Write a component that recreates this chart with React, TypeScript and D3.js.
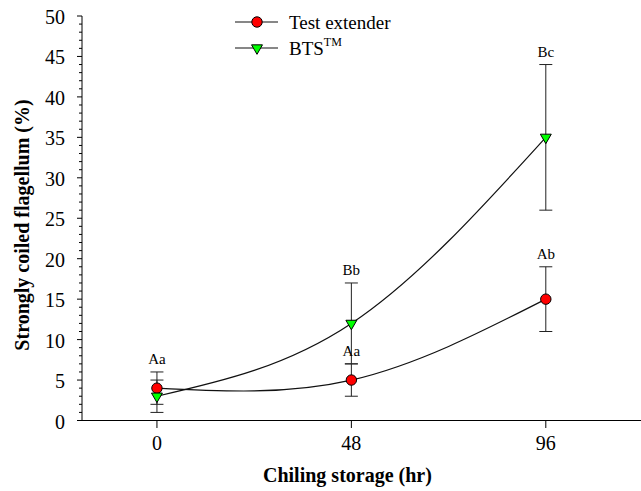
import React from "react";
import * as d3 from "d3";

const hours = [0, 48, 96];
const testMean = [4, 5, 15];
const testErr = [2, 2, 4];
const btsMean = [3, 12, 35];
const btsErr = [2, 5, 9];
const testLabels = ["Aa", "Aa", "Ab"];
const btsLabels = ["", "Bb", "Bc"];
const yTicks = [0, 5, 10, 15, 20, 25, 30, 35, 40, 45, 50];
const xTicks = [0, 48, 96];

const W = 641, H = 491;
const FONT = "'Liberation Serif', 'Times New Roman', serif";

export default function App() {
  const x = d3.scaleLinear().domain([-18.5, 119.5]).range([82, 641]);
  const y = d3.scaleLinear().domain([0, 50]).range([420.5, 16]);
  const minor = d3.range(0, 51, 1).filter((v) => v % 5 !== 0);
  const line = d3
    .line<number>()
    .x((_, i) => x(hours[i]))
    .y((d) => y(d))
    .curve(d3.curveNatural);
  const tri = d3.symbol().type(d3.symbolTriangle).size(52)();

  const series = [
    { mean: testMean, err: testErr, labels: testLabels, kind: "circle" },
    { mean: btsMean, err: btsErr, labels: btsLabels, kind: "tri" },
  ];

  const marker = (kind: string, cx: number, cy: number, key?: string) =>
    kind === "circle" ? (
      <circle key={key} cx={cx} cy={cy} r={5.2} fill="#ff0000" stroke="#000" strokeWidth={1} />
    ) : (
      <path key={key} d={tri as string} transform={`translate(${cx},${cy}) rotate(180)`} fill="#00ff00" stroke="#000" strokeWidth={1} />
    );

  return (
    <svg width={W} height={H} style={{ position: "absolute", left: 0, top: 0, background: "#fff" }} fontFamily={FONT}>
      {/* axes */}
      <line x1={82} x2={82} y1={16} y2={420.5} stroke="#000" />
      <line x1={82} x2={641} y1={420.5} y2={420.5} stroke="#000" />
      {yTicks.map((t) => (
        <g key={"y" + t}>
          <line x1={77} x2={82} y1={y(t)} y2={y(t)} stroke="#000" />
          <text x={65} y={y(t) + 1} dy="0.35em" textAnchor="end" fontSize={20}>{t}</text>
        </g>
      ))}
      {minor.map((t) => (
        <line key={"m" + t} x1={79} x2={82} y1={y(t)} y2={y(t)} stroke="#000" />
      ))}
      {xTicks.map((t) => (
        <g key={"x" + t}>
          <line x1={x(t)} x2={x(t)} y1={420.5} y2={428} stroke="#000" />
          <text x={x(t)} y={450} textAnchor="middle" fontSize={20}>{t}</text>
        </g>
      ))}
      <text x={263} y={482} textAnchor="start" fontSize={20} fontWeight="bold">Chiling storage (hr)</text>
      <text transform={`translate(29,225) rotate(-90)`} textAnchor="middle" fontSize={20} fontWeight="bold">
        Strongly coiled flagellum (%)
      </text>

      {/* error bars */}
      {series.map((s, si) =>
        s.mean.map((m, i) => {
          const cx = x(hours[i]);
          const top = y(m + s.err[i]);
          const bot = y(m - s.err[i]);
          return (
            <g key={`e${si}-${i}`} stroke="#222" strokeWidth={1}>
              <line x1={cx} x2={cx} y1={top} y2={bot} />
              <line x1={cx - 6.5} x2={cx + 6.5} y1={top} y2={top} />
              <line x1={cx - 6.5} x2={cx + 6.5} y1={bot} y2={bot} />
            </g>
          );
        })
      )}
      {/* curves */}
      {series.map((s, si) => (
        <path key={"l" + si} d={line(s.mean) as string} fill="none" stroke="#111" strokeWidth={1.2} />
      ))}
      {/* markers */}
      {series.map((s, si) => s.mean.map((m, i) => marker(s.kind, x(hours[i]), y(m), `p${si}-${i}`)))}
      {/* letters */}
      {series.map((s, si) =>
        s.labels.map((lab, i) =>
          lab ? (
            <text key={`t${si}-${i}`} x={x(hours[i])} y={y(s.mean[i] + s.err[i]) - 8} textAnchor="middle" fontSize={15}>
              {lab}
            </text>
          ) : null
        )
      )}

      {/* legend */}
      <line x1={235} x2={278} y1={22} y2={22} stroke="#111" strokeWidth={1.2} />
      {marker("circle", 257, 22)}
      <text x={289} y={22} dy="0.35em" fontSize={19}>Test extender</text>
      <line x1={235} x2={278} y1={48} y2={48} stroke="#111" strokeWidth={1.2} />
      {marker("tri", 257, 48)}
      <text x={289} y={48} dy="0.35em" fontSize={19}>
        BTS<tspan fontSize={12} dy="-0.7em">TM</tspan>
      </text>
    </svg>
  );
}
